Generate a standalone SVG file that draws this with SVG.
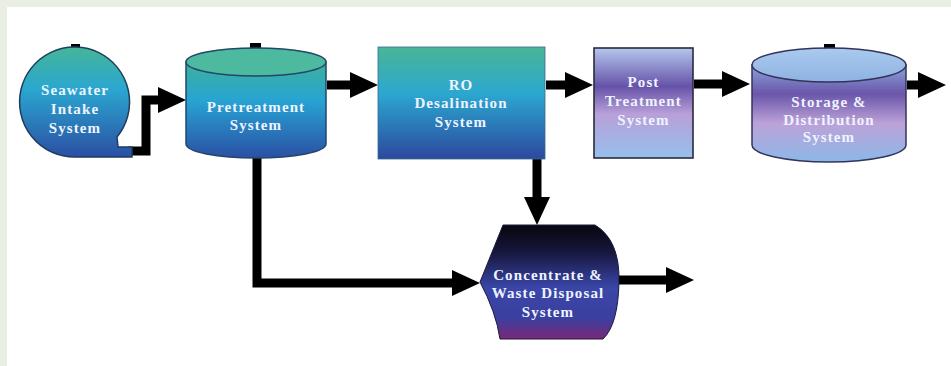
<svg xmlns="http://www.w3.org/2000/svg" width="951" height="366" viewBox="0 0 951 366">
<style>
.lbl{font-family:"Liberation Serif","Times New Roman",serif;font-weight:bold;font-size:15px;letter-spacing:1.1px;fill:#eef4ff;text-anchor:middle}
.conn{fill:none;stroke:#000;stroke-width:9;stroke-linejoin:miter;stroke-linecap:butt}
.tick{fill:#000}
</style>
<defs>
<marker id="ah" markerUnits="userSpaceOnUse" markerWidth="28" markerHeight="26" refX="0" refY="13" orient="auto" overflow="visible">
<path d="M0 0 L28 13 L0 26 Z" fill="#000"/>
</marker>
<linearGradient id="gSea" x1="0" y1="0" x2="0" y2="1">
<stop offset="0" stop-color="#45b598"/><stop offset="0.38" stop-color="#2aa7d0"/><stop offset="1" stop-color="#2b4fa3"/>
</linearGradient>
<linearGradient id="gPre" x1="0" y1="0" x2="0" y2="1">
<stop offset="0" stop-color="#3fb09a"/><stop offset="0.4" stop-color="#27a4d3"/><stop offset="1" stop-color="#2a50a4"/>
</linearGradient>
<linearGradient id="gRO" x1="0" y1="0" x2="0" y2="1">
<stop offset="0" stop-color="#4ab596"/><stop offset="0.42" stop-color="#2ba7d0"/><stop offset="1" stop-color="#2c489e"/>
</linearGradient>
<linearGradient id="gPost" x1="0" y1="0" x2="0" y2="1">
<stop offset="0" stop-color="#b4c7ed"/><stop offset="0.35" stop-color="#6652a8"/><stop offset="0.6" stop-color="#b8a0d8"/><stop offset="1" stop-color="#96c0ec"/>
</linearGradient>
<linearGradient id="gSto" x1="0" y1="0" x2="0" y2="1">
<stop offset="0" stop-color="#8aa4da"/><stop offset="0.3" stop-color="#6a55aa"/><stop offset="0.6" stop-color="#bca2d8"/><stop offset="1" stop-color="#8cb8e8"/>
</linearGradient>
<linearGradient id="gStoTop" x1="0" y1="0" x2="0" y2="1">
<stop offset="0" stop-color="#aacaee"/><stop offset="1" stop-color="#8eb2e2"/>
</linearGradient>
<linearGradient id="gCon" x1="0" y1="0" x2="0" y2="1">
<stop offset="0" stop-color="#06060c"/><stop offset="0.25" stop-color="#181840"/><stop offset="0.55" stop-color="#3a46a8"/><stop offset="0.82" stop-color="#3b3f9e"/><stop offset="1" stop-color="#7a2878"/>
</linearGradient>
</defs>

<rect x="0" y="0" width="951" height="366" fill="#ffffff"/>
<rect x="0" y="0" width="951" height="7" fill="#e9efe5"/>
<rect x="0" y="0" width="7" height="366" fill="#e9efe5"/>

<g id="connectors">
<path class="conn" d="M128 151 H146 V100 H158" marker-end="url(#ah)"/>
<path class="conn" d="M327 85 H350" marker-end="url(#ah)"/>
<path class="conn" d="M546 85 H565" marker-end="url(#ah)"/>
<path class="conn" d="M694 84 H722" marker-end="url(#ah)"/>
<path class="conn" d="M907 85 H918" marker-end="url(#ah)"/>
<path class="conn" d="M537 159 V197" marker-end="url(#ah)"/>
<path class="conn" d="M257 158 V283 H452" marker-end="url(#ah)"/>
<path class="conn" d="M619 280 H666" marker-end="url(#ah)"/>
</g>

<g id="seawater">
<rect class="tick" x="71" y="44" width="9" height="5"/>
<path d="M75 157 A55 55 0 1 1 117 137 L118 147 L132 147 L132 157 Z" fill="url(#gSea)" stroke="#1f3d5c" stroke-width="1.5"/>
<text class="lbl" x="75" y="95">Seawater</text>
<text class="lbl" x="75" y="114">Intake</text>
<text class="lbl" x="75" y="133">System</text>
</g>

<g id="pretreatment">
<rect class="tick" x="250" y="43" width="11" height="6"/>
<path d="M186 62 V144 A70 14 0 0 0 326 144 V62 Z" fill="url(#gPre)" stroke="#24466a" stroke-width="1.5"/>
<ellipse cx="256" cy="62" rx="70" ry="14" fill="#4dbaa0" stroke="#24466a" stroke-width="1.5"/>
<text class="lbl" x="256" y="112">Pretreatment</text>
<text class="lbl" x="256" y="130">System</text>
</g>

<g id="ro">
<rect x="378" y="47" width="167" height="112" fill="url(#gRO)" stroke="#3a6a8a" stroke-width="0.8"/>
<text class="lbl" x="461" y="90">RO</text>
<text class="lbl" x="461" y="108">Desalination</text>
<text class="lbl" x="461" y="127">System</text>
</g>

<g id="post">
<rect x="594" y="48" width="99" height="110" fill="url(#gPost)" stroke="#2a2a3c" stroke-width="1.6"/>
<text class="lbl" x="643.5" y="87">Post</text>
<text class="lbl" x="643.5" y="106">Treatment</text>
<text class="lbl" x="643.5" y="125">System</text>
</g>

<g id="storage">
<rect class="tick" x="824" y="44" width="11" height="6"/>
<path d="M752 65 V145 A77 17 0 0 0 906 145 V65 Z" fill="url(#gSto)" stroke="#34345a" stroke-width="1.5"/>
<ellipse cx="829" cy="65" rx="77" ry="17" fill="url(#gStoTop)" stroke="#34345a" stroke-width="1.5"/>
<text class="lbl" x="829" y="107">Storage &amp;</text>
<text class="lbl" x="829" y="125">Distribution</text>
<text class="lbl" x="829" y="142">System</text>
</g>

<g id="concentrate">
<path d="M503 225 H595 Q620 240 619 282 Q618 325 603 339 H500 Q496 312 480 282 Z" fill="url(#gCon)" stroke="#1a1a40" stroke-width="1"/>
<text class="lbl" x="548" y="280">Concentrate &amp;</text>
<text class="lbl" x="548" y="298">Waste Disposal</text>
<text class="lbl" x="548" y="317">System</text>
</g>
</svg>
